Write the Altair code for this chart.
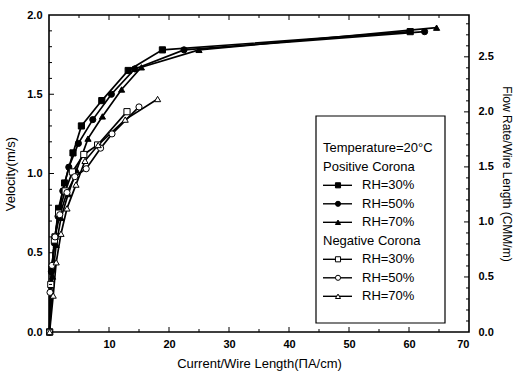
import altair as alt
import pandas as pd

# ---------------- data ----------------
series_names = ["Pos RH=30%", "Pos RH=50%", "Pos RH=70%", "Neg RH=30%", "Neg RH=50%", "Neg RH=70%"]
series_shapes = ["square", "circle", "triangle-up", "square", "circle", "triangle-up"]
series_fills = ["black", "black", "black", "white", "white", "white"]

pos30_x = [0.1, 0.5, 1.0, 1.6, 2.6, 4.0, 5.4, 8.8, 13.2, 18.9, 60.2]
pos30_y = [0.0, 0.40, 0.60, 0.78, 0.94, 1.13, 1.30, 1.46, 1.65, 1.78, 1.895]

pos50_x = [0.1, 0.4, 0.9, 1.5, 2.3, 3.3, 4.9, 7.3, 10.4, 14.3, 22.5, 62.6]
pos50_y = [0.0, 0.38, 0.56, 0.73, 0.89, 1.04, 1.19, 1.34, 1.50, 1.66, 1.78, 1.895]

pos70_x = [0.1, 0.6, 1.2, 2.0, 3.2, 4.6, 6.5, 8.9, 12.1, 15.4, 25.0, 64.6]
pos70_y = [0.0, 0.35, 0.55, 0.72, 0.87, 1.02, 1.22, 1.36, 1.53, 1.67, 1.78, 1.92]

neg30_x = [0.1, 0.3, 0.9, 1.6, 2.7, 3.9, 5.8, 8.1, 13.0]
neg30_y = [0.0, 0.30, 0.58, 0.75, 0.89, 1.01, 1.12, 1.18, 1.39]

neg50_x = [0.1, 0.17, 0.5, 1.0, 1.8, 3.0, 4.3, 6.2, 8.6, 10.5, 15.0]
neg50_y = [0.0, 0.25, 0.42, 0.60, 0.74, 0.88, 0.98, 1.03, 1.16, 1.25, 1.42]

neg70_x = [0.1, 0.7, 1.2, 2.0, 3.0, 4.5, 6.0, 8.2, 12.7, 18.1]
neg70_y = [0.0, 0.23, 0.44, 0.62, 0.78, 0.93, 1.08, 1.18, 1.34, 1.47]

x_label_values = [10, 20, 30, 40, 50, 60, 70]
x_major_ticks = [10, 20, 30, 40, 50, 60]
x_minor_ticks = [5, 15, 25, 35, 45, 55, 65]
left_label_values = [0.0, 0.5, 1.0, 1.5, 2.0]
left_major_ticks = [0.5, 1.0, 1.5]
left_minor_ticks = [0.1, 0.2, 0.3, 0.4, 0.6, 0.7, 0.8, 0.9, 1.1, 1.2, 1.3, 1.4, 1.6, 1.7, 1.8, 1.9]
right_label_values = [0.0, 0.5, 1.0, 1.5, 2.0, 2.5]
right_major_ticks = [0.5, 1.0, 1.5, 2.0, 2.5]
right_minor_ticks = [0.1, 0.2, 0.3, 0.4, 0.6, 0.7, 0.8, 0.9, 1.1, 1.2, 1.3, 1.4,
                     1.6, 1.7, 1.8, 1.9, 2.1, 2.2, 2.3, 2.4, 2.6, 2.7, 2.8]

legend_headers = ["Temperature=20°C", "Positive Corona", "Negative Corona"]
legend_header_rows = [0, 1, 5]
legend_entries = ["RH=30%", "RH=50%", "RH=70%", "RH=30%", "RH=50%", "RH=70%"]
legend_entry_rows = [2, 3, 4, 6, 7, 8]

# ---------------- layout ----------------
W, H = 420, 317
FONT = "Liberation Sans"
X_DOMAIN = [0, 70]
Y_DOMAIN = [0, 2.0]
R_DOMAIN = [0, 2.88]

all_x = [pos30_x, pos50_x, pos70_x, neg30_x, neg50_x, neg70_x]
all_y = [pos30_y, pos50_y, pos70_y, neg30_y, neg50_y, neg70_y]
rows = []
for name, xs, ys in zip(series_names, all_x, all_y):
    for xv, yv in zip(xs, ys):
        rows.append({"series": name, "x": xv, "y": yv})
df = pd.DataFrame(rows)

xscale = alt.Scale(domain=X_DOMAIN, nice=False, zero=False)
yscale = alt.Scale(domain=Y_DOMAIN, nice=False)
rscale = alt.Scale(domain=R_DOMAIN, nice=False)
shape_scale = alt.Scale(domain=series_names, range=series_shapes)
fill_scale = alt.Scale(domain=series_names, range=series_fills)

base = alt.Chart(df)
lines = base.mark_line(color="black", strokeWidth=1.7).encode(
    x=alt.X("x:Q", scale=xscale,
            axis=alt.Axis(values=x_label_values, format="d", domain=False, ticks=False, grid=False,
                          labelPadding=6, labelFont=FONT, labelFontSize=11, labelFontWeight="bold",
                          labelColor="black", title="Current/Wire Length(ΠA/cm)", titleFont=FONT,
                          titleFontSize=13, titleFontWeight="normal", titleColor="black", titlePadding=8)),
    y=alt.Y("y:Q", scale=yscale,
            axis=alt.Axis(values=left_label_values, format=".1f", domain=False, ticks=False, grid=False,
                          labelPadding=7, labelFont=FONT, labelFontSize=11, labelFontWeight="bold",
                          labelColor="black", title="Velocity(m/s)", titleFont=FONT, titleFontSize=13,
                          titleFontWeight="normal", titleColor="black", titlePadding=9)),
    detail="series:N",
)
points = base.mark_point(size=38, strokeWidth=1, stroke="black", opacity=1, filled=False).encode(
    x=alt.X("x:Q", scale=xscale),
    y=alt.Y("y:Q", scale=yscale),
    shape=alt.Shape("series:N", scale=shape_scale, legend=None),
    fill=alt.Fill("series:N", scale=fill_scale, legend=None),
)

def xtick_layer(vals, length, bottom=True):
    d = pd.DataFrame({"v": vals})
    if bottom:
        yv, y2v = H, H - length
    else:
        yv, y2v = 0, length
    return alt.Chart(d).mark_rule(color="black", strokeWidth=1).encode(
        x=alt.X("v:Q", scale=xscale), y=alt.value(yv), y2=alt.value(y2v))

def ytick_layer(vals, length, scale, right=False):
    d = pd.DataFrame({"v": vals})
    if right:
        xv, x2v = W, W - length
    else:
        xv, x2v = 0, length
    return alt.Chart(d).mark_rule(color="black", strokeWidth=1).encode(
        y=alt.Y("v:Q", scale=scale), x=alt.value(xv), x2=alt.value(x2v))

ticks = [
    xtick_layer(x_major_ticks, 5, True), xtick_layer(x_minor_ticks, 3, True),
    xtick_layer(x_major_ticks, 5, False), xtick_layer(x_minor_ticks, 3, False),
    ytick_layer(left_major_ticks, 5, yscale), ytick_layer(left_minor_ticks, 3, yscale),
]

# ---------------- legend ----------------
LX0, LX1, LY0, LY1 = 267, 396, 101, 308
ROW0, ROWH = 133.3, 18.5
box = alt.Chart(pd.DataFrame({"a": [0]})).mark_rect(
    fill="white", stroke="black", strokeWidth=1.2).encode(
    x=alt.value(LX0), x2=alt.value(LX1), y=alt.value(LY0), y2=alt.value(LY1))

hdr = pd.DataFrame({"t": legend_headers, "py": [ROW0 + ROWH * r for r in legend_header_rows]})
hdr_text = alt.Chart(hdr).mark_text(align="left", baseline="middle", font=FONT, fontSize=13,
                                    color="black").encode(
    text="t:N", x=alt.value(274), y=alt.Y("py:Q", scale=None))

ent = pd.DataFrame({"t": legend_entries, "series": series_names,
                    "py": [ROW0 + ROWH * r for r in legend_entry_rows]})
ent_text = alt.Chart(ent).mark_text(align="left", baseline="middle", font=FONT, fontSize=13,
                                    color="black").encode(
    text="t:N", x=alt.value(313), y=alt.Y("py:Q", scale=None))
ent_line = alt.Chart(ent).mark_rule(color="black", strokeWidth=1.4).encode(
    x=alt.value(274), x2=alt.value(303), y=alt.Y("py:Q", scale=None))
ent_pt = alt.Chart(ent).mark_point(size=26, strokeWidth=1, stroke="black", opacity=1).encode(
    x=alt.value(289), y=alt.Y("py:Q", scale=None),
    shape=alt.Shape("series:N", scale=shape_scale, legend=None),
    fill=alt.Fill("series:N", scale=fill_scale, legend=None))

left_group = alt.layer(lines, points, *ticks, box, hdr_text, ent_line, ent_pt, ent_text)

# ---------------- right axis ----------------
rmaj = pd.DataFrame({"v": right_major_ticks})
right_axis = alt.Chart(rmaj).mark_rule(color="black", strokeWidth=1).encode(
    y=alt.Y("v:Q", scale=rscale,
            axis=alt.Axis(orient="right", values=right_label_values, format=".1f", domain=False,
                          ticks=False, grid=False, labelPadding=9, labelFont=FONT, labelFontSize=11,
                          labelFontWeight="bold", labelColor="black",
                          title="Flow Rate/Wire Length (CMM/m)", titleFont=FONT, titleFontSize=12,
                          titleFontWeight="normal", titleColor="black", titlePadding=6)),
    x=alt.value(W), x2=alt.value(W - 5))
right_minor = ytick_layer(right_minor_ticks, 3, rscale, right=True)
right_group = alt.layer(right_axis, right_minor)

chart = alt.layer(left_group, right_group).resolve_scale(y="independent").properties(
    width=W, height=H,
    autosize=alt.AutoSizeParams(type="none"),
    padding={"left": 49, "top": 15, "right": 50, "bottom": 42},
    background="white",
).configure_view(stroke="black", strokeWidth=1.6)

chart.save("out.html", embed_options={"renderer": "svg", "actions": False})
